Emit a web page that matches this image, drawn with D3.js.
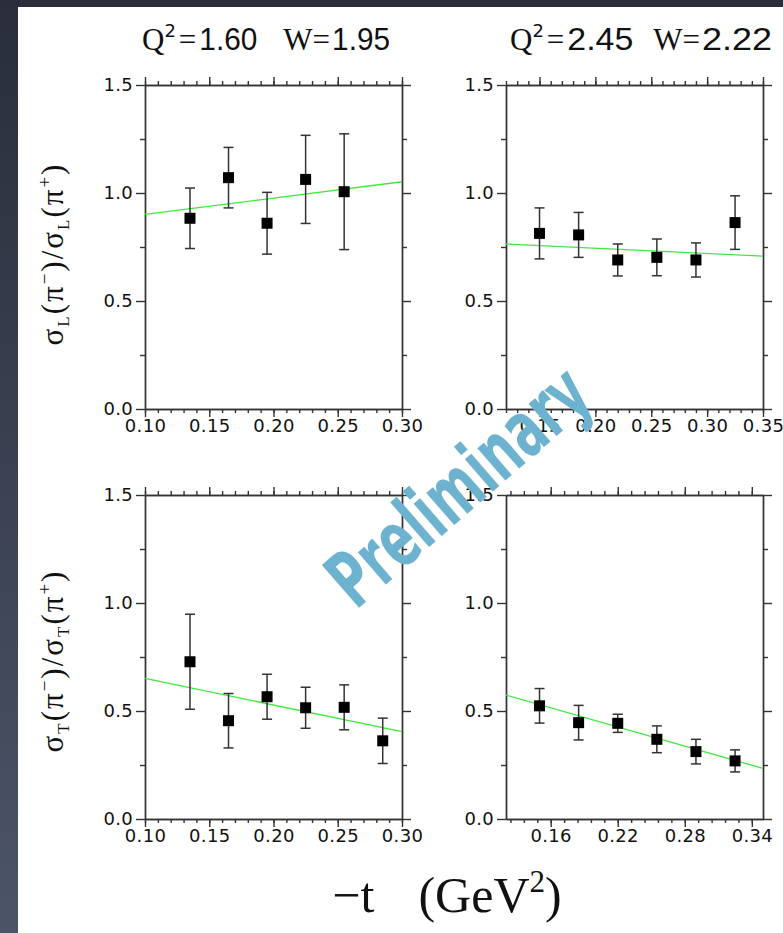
<!DOCTYPE html>
<html>
<head>
<meta charset="utf-8">
<script src="https://cdn.jsdelivr.net/npm/d3@7"></script>
<style>
  body { margin: 0; background: #fff; }
  svg { display: block; }
  .tick text { font-family: "DejaVu Sans", sans-serif; font-size: 18px; letter-spacing: 0.3px; fill: #111; }
  .tick line, .domain { stroke: #333; stroke-width: 1.4; }
</style>
</head>
<body>
<svg id="chart"></svg>
<script>
// sigma_L ratio, Q2=1.60 W=1.95
var tL1 = [0.135, 0.165, 0.195, 0.225, 0.255];
var rL1 = [0.883, 1.071, 0.860, 1.063, 1.006];
var eL1 = [0.14, 0.14, 0.143, 0.204, 0.268];
var fitL1 = [0.901, 1.052];

// sigma_L ratio, Q2=2.45 W=2.22
var tL2 = [0.150, 0.185, 0.220, 0.255, 0.290, 0.325];
var rL2 = [0.813, 0.806, 0.690, 0.702, 0.690, 0.863];
var eL2 = [0.118, 0.104, 0.074, 0.085, 0.079, 0.124];
var fitL2 = [0.764, 0.708];

// sigma_T ratio, Q2=1.60 W=1.95
var tT1 = [0.135, 0.165, 0.195, 0.225, 0.255, 0.285];
var rT1 = [0.728, 0.455, 0.566, 0.515, 0.517, 0.362];
var eT1 = [0.22, 0.126, 0.104, 0.095, 0.104, 0.105];
var fitT1 = [0.651, 0.404];

// sigma_T ratio, Q2=2.45 W=2.22
var tT2 = [0.150, 0.185, 0.220, 0.255, 0.290, 0.325];
var rT2 = [0.524, 0.446, 0.443, 0.369, 0.312, 0.269];
var eT2 = [0.08, 0.08, 0.042, 0.062, 0.057, 0.051];
var fitT2 = [0.574, 0.234];

// axes
var xDomLeft = [0.10, 0.30];
var xDomRight = [0.12, 0.35];
var xMajorLeft = [0.10, 0.15, 0.20, 0.25, 0.30];
var xMajorTopRight = [0.15, 0.20, 0.25, 0.30, 0.35];
var xMajorBotRight = [0.16, 0.22, 0.28, 0.34];
var yMajor = [0, 0.5, 1.0, 1.5];
var yMinor = [0.25, 0.75, 1.25];
var titles = [["1.60", "1.95"], ["2.45", "2.22"]];

var W = 783, H = 933;
var svg = d3.select("#chart").attr("width", W).attr("height", H);

// dark frame at top / left
var grad = svg.append("defs").append("linearGradient")
    .attr("id", "side").attr("x1", 0).attr("y1", 0).attr("x2", 0).attr("y2", 1);
grad.append("stop").attr("offset", 0).attr("stop-color", "#2a2e3b");
grad.append("stop").attr("offset", 1).attr("stop-color", "#4c5468");
svg.append("rect").attr("x", 0).attr("y", 0).attr("width", 18).attr("height", H).attr("fill", "url(#side)");
svg.append("rect").attr("x", 0).attr("y", 0).attr("width", W).attr("height", 7).attr("fill", "#2a2e3b");

function range(a, b, step) {
  var out = [];
  for (var i = 0; a + i * step <= b + 1e-9; i++) out.push(+(a + i * step).toFixed(4));
  return out;
}

var panels = [
  { x0: 145, y0: 85, t: tL1, r: rL1, e: eL1, fit: fitL1, dom: xDomLeft,
    major: xMajorLeft, minor: range(0.10, 0.30, 0.01) },
  { x0: 506, y0: 85, t: tL2, r: rL2, e: eL2, fit: fitL2, dom: xDomRight,
    major: xMajorTopRight, minor: range(0.12, 0.35, 0.01) },
  { x0: 145, y0: 495, t: tT1, r: rT1, e: eT1, fit: fitT1, dom: xDomLeft,
    major: xMajorLeft, minor: range(0.10, 0.30, 0.01) },
  { x0: 506, y0: 495, t: tT2, r: rT2, e: eT2, fit: fitT2, dom: xDomRight,
    major: xMajorBotRight, minor: range(0.124, 0.35, 0.012) }
];

var pw = 257, ph = 324;

panels.forEach(function(p) {
  var g = svg.append("g").attr("transform", "translate(" + p.x0 + "," + p.y0 + ")");
  var x = d3.scaleLinear().domain(p.dom).range([0, pw]);
  var y = d3.scaleLinear().domain([0, 1.5]).range([ph, 0]);

  // minor ticks first
  g.append("g").attr("transform", "translate(0," + ph + ")")
    .call(d3.axisBottom(x).tickValues(p.minor).tickSize(4).tickSizeOuter(0).tickFormat(""));
  g.append("g")
    .call(d3.axisTop(x).tickValues(p.minor).tickSize(4).tickSizeOuter(0).tickFormat(""));
  g.append("g")
    .call(d3.axisLeft(y).tickValues(yMinor).tickSize(5).tickSizeOuter(0).tickFormat(""));
  g.append("g").attr("transform", "translate(" + pw + ",0)")
    .call(d3.axisRight(y).tickValues(yMinor).tickSize(5).tickSizeOuter(0).tickFormat(""));

  // major ticks
  g.append("g").attr("transform", "translate(0," + ph + ")")
    .call(d3.axisBottom(x).tickValues(p.major).tickSize(8).tickSizeOuter(0).tickPadding(2).tickFormat(d3.format(".2f")));
  g.append("g")
    .call(d3.axisTop(x).tickValues(p.major).tickSize(8).tickSizeOuter(0).tickFormat(""));
  g.append("g")
    .call(d3.axisLeft(y).tickValues(yMajor).tickSize(9).tickSizeOuter(0).tickPadding(3).tickFormat(d3.format(".1f")));
  g.append("g").attr("transform", "translate(" + pw + ",0)")
    .call(d3.axisRight(y).tickValues(yMajor).tickSize(9).tickSizeOuter(0).tickFormat(""));

  // fit line
  g.append("line")
    .attr("x1", x(p.dom[0])).attr("y1", y(p.fit[0]))
    .attr("x2", x(p.dom[1])).attr("y2", y(p.fit[1]))
    .attr("stroke", "#3ee83e").attr("stroke-width", 1.3);

  // error bars
  var pts = p.t.map(function(t, i) { return { t: t, r: p.r[i], e: p.e[i] }; });
  var eb = g.selectAll(".err").data(pts).enter().append("g")
    .attr("stroke", "#333").attr("stroke-width", 1.5);
  eb.append("line")
    .attr("x1", function(d) { return x(d.t); }).attr("x2", function(d) { return x(d.t); })
    .attr("y1", function(d) { return y(d.r + d.e); }).attr("y2", function(d) { return y(d.r - d.e); });
  eb.append("line")
    .attr("x1", function(d) { return x(d.t) - 5; }).attr("x2", function(d) { return x(d.t) + 5; })
    .attr("y1", function(d) { return y(d.r + d.e); }).attr("y2", function(d) { return y(d.r + d.e); });
  eb.append("line")
    .attr("x1", function(d) { return x(d.t) - 5; }).attr("x2", function(d) { return x(d.t) + 5; })
    .attr("y1", function(d) { return y(d.r - d.e); }).attr("y2", function(d) { return y(d.r - d.e); });

  // markers
  g.selectAll(".pt").data(pts).enter().append("rect")
    .attr("x", function(d) { return x(d.t) - 5.5; })
    .attr("y", function(d) { return y(d.r) - 5.5; })
    .attr("width", 11).attr("height", 11).attr("fill", "#000");
});

// column titles (digit widths and gaps follow the picture)
function title(xs, q, w, lq, lw, gap) {
  var t = svg.append("text").attr("x", xs).attr("y", 50)
    .attr("font-size", 31).attr("fill", "#111");
  t.append("tspan").attr("font-family", "Liberation Serif, serif").text("Q");
  t.append("tspan").attr("font-family", "DejaVu Sans, sans-serif").attr("font-size", 18).attr("dy", -13).text("2");
  t.append("tspan").attr("font-family", "Liberation Serif, serif").attr("dy", 13).attr("dx", 3).text("=");
  t.append("tspan").attr("font-family", "Liberation Sans, sans-serif").attr("dx", 3)
    .attr("textLength", lq).attr("lengthAdjust", "spacingAndGlyphs").text(q);
  t.append("tspan").attr("font-family", "Liberation Serif, serif").attr("dx", gap).text("W=");
  t.append("tspan").attr("font-family", "Liberation Sans, sans-serif").attr("dx", 2)
    .attr("textLength", lw).attr("lengthAdjust", "spacingAndGlyphs").text(w);
}
title(142, titles[0][0], titles[0][1], 58, 58, 26);
title(510, titles[1][0], titles[1][1], 66, 70, 20);

// y labels
function ylab(cy, sub) {
  var t = svg.append("text")
    .attr("transform", "translate(63," + cy + ") rotate(-90)")
    .attr("text-anchor", "middle")
    .attr("font-family", "Liberation Serif, serif").attr("font-size", 31)
    .attr("letter-spacing", 2).attr("fill", "#111");
  t.append("tspan").text("\u03c3");
  t.append("tspan").attr("font-size", 17).attr("dy", 6).text(sub);
  t.append("tspan").attr("dy", -6).text("(\u03c0");
  t.append("tspan").attr("font-size", 19).attr("dy", -12).text("\u2212");
  t.append("tspan").attr("dy", 12).text(")/\u03c3");
  t.append("tspan").attr("font-size", 17).attr("dy", 6).text(sub);
  t.append("tspan").attr("dy", -6).text("(\u03c0");
  t.append("tspan").attr("font-size", 19).attr("dy", -12).text("+");
  t.append("tspan").attr("dy", 12).text(")");
}
ylab(254, "L");
ylab(661, "T");

// x label
var xl = svg.append("text").attr("x", 447).attr("y", 912).attr("text-anchor", "middle")
  .attr("font-family", "Liberation Serif, serif").attr("font-size", 50).attr("fill", "#111");
xl.append("tspan").text("\u2212t");
xl.append("tspan").attr("dx", 44).text("(GeV");
xl.append("tspan").attr("font-size", 31).attr("dy", -20).text("2");
xl.append("tspan").attr("dy", 20).text(")");

// watermark
svg.append("text")
  .attr("transform", "translate(458,486) rotate(-41)")
  .attr("text-anchor", "middle").attr("dominant-baseline", "central")
  .attr("font-family", "DejaVu Sans, sans-serif")
  .attr("font-weight", "bold").attr("font-size", 78)
  .attr("textLength", 318).attr("lengthAdjust", "spacingAndGlyphs")
  .attr("fill", "#6db3cf").text("Preliminary");
</script>
</body>
</html>
